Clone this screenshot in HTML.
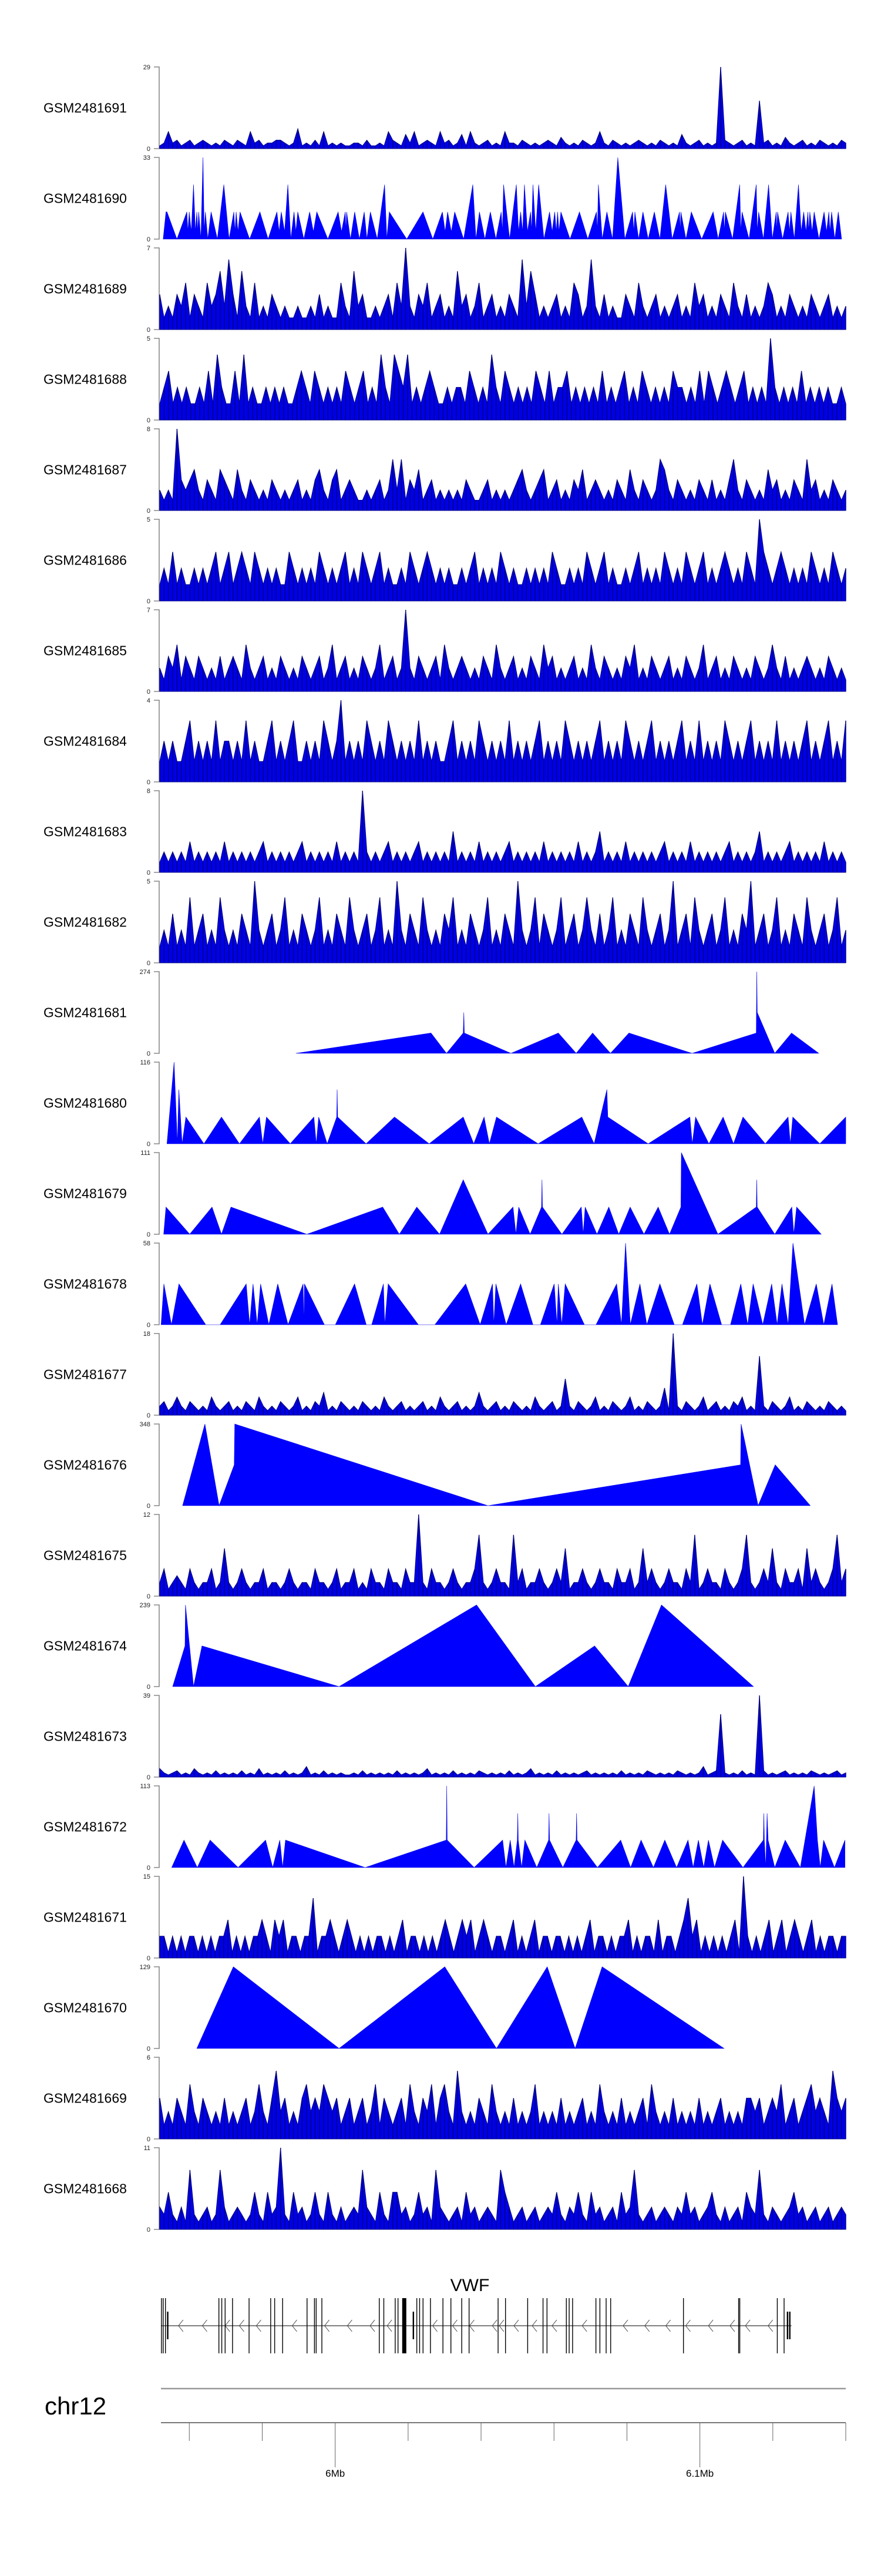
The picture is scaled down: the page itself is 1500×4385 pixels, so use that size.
<!DOCTYPE html>
<html><head><meta charset="utf-8"><title>Coverage tracks chr12 VWF</title>
<style>
html,body{margin:0;padding:0;background:#fff;}
body{width:1500px;height:4380px;overflow:hidden;font-family:"Liberation Sans",Arial,sans-serif;}
svg text{font-family:"Liberation Sans",Arial,sans-serif;}
</style></head>
<body>
<svg id="chart" width="1500" height="4380" viewBox="0 0 1500 4380" xmlns="http://www.w3.org/2000/svg">
<g id="tracks"></g>
<g id="gene"></g>
<g id="scale"></g>
</svg>
<script>
// ---- track names & y-axis maxima ----
const trackNames = ["GSM2481691","GSM2481690","GSM2481689","GSM2481688","GSM2481687","GSM2481686","GSM2481685","GSM2481684","GSM2481683","GSM2481682","GSM2481681","GSM2481680","GSM2481679","GSM2481678","GSM2481677","GSM2481676","GSM2481675","GSM2481674","GSM2481673","GSM2481672","GSM2481671","GSM2481670","GSM2481669","GSM2481668"];
const trackMax = [29,33,7,5,8,5,7,4,8,5,274,116,111,58,18,348,12,239,39,113,15,129,6,11];

// ---- dense coverage tracks (evenly spaced bins) ----
const cov1691 = [1,2,6,2,3,1,2,3,1,2,3,2,1,2,1,3,2,1,3,2,1,6,2,3,1,2,2,3,3,2,1,2,7,1,2,1,3,1,6,1,2,1,2,1,1,2,2,1,3,1,1,2,1,6,3,2,1,5,2,6,1,2,3,2,1,6,2,3,1,2,5,1,6,2,1,2,3,1,2,1,6,2,2,1,3,2,1,2,1,2,3,2,1,4,2,1,2,1,3,2,1,2,6,2,1,3,2,1,2,1,2,3,2,1,2,1,3,2,1,2,1,5,2,1,2,3,1,2,1,2,29,3,2,1,2,3,1,2,1,17,2,3,1,2,1,4,2,1,2,3,1,2,1,3,2,1,2,1,3,2];
const cov1689 = [3,1,2,1,3,2,4,1,3,2,1,4,2,3,5,2,6,3,1,5,2,1,4,1,2,1,3,2,1,2,1,1,2,1,1,2,1,3,1,2,1,1,4,2,1,5,2,3,1,1,2,1,2,3,1,4,2,7,2,1,3,2,4,1,2,3,1,2,1,5,2,3,1,2,4,1,2,3,1,2,1,3,2,1,6,2,5,3,1,2,1,2,3,1,2,1,4,3,1,2,6,2,1,3,1,2,1,1,3,2,1,4,2,1,2,3,1,2,1,2,3,1,2,1,4,2,3,1,2,1,3,2,1,4,2,1,3,1,2,1,2,4,3,1,2,1,3,2,1,2,1,3,2,1,2,3,1,2,1,2];
const cov1688 = [1,2,3,1,2,1,2,1,1,2,1,3,1,4,2,1,1,3,1,4,1,2,1,1,2,1,2,1,2,1,1,2,3,2,1,3,2,1,2,1,2,1,3,2,1,2,3,1,2,1,4,2,1,4,3,2,4,1,2,1,2,3,2,1,1,2,1,2,2,1,3,2,1,2,1,4,2,1,3,2,1,2,1,2,1,3,2,1,3,1,2,2,3,1,2,1,2,1,2,1,3,1,2,1,2,3,1,2,1,3,2,1,2,1,2,1,3,2,2,1,2,1,3,1,3,2,1,2,3,2,1,2,3,1,2,1,2,1,5,2,1,2,1,2,1,3,1,2,1,2,1,2,1,1,2,1];
const cov1687 = [2,1,2,1,8,3,2,3,4,2,1,3,2,1,4,3,2,1,4,2,1,3,2,1,2,1,3,2,1,2,1,2,3,1,2,1,3,4,2,1,3,4,1,2,3,2,1,1,2,1,2,3,1,2,5,2,5,1,3,2,4,1,2,3,1,2,1,2,1,2,1,3,2,1,1,2,3,1,2,1,2,1,2,3,4,2,1,2,3,4,1,2,3,1,2,1,3,2,4,1,2,3,2,1,2,1,3,2,1,4,2,1,3,2,1,2,5,4,2,1,3,2,1,2,1,3,2,1,3,1,2,1,3,5,2,1,3,2,1,2,1,4,2,3,1,2,1,3,2,1,5,2,3,1,2,1,3,2,1,2];
const cov1686 = [1,2,1,3,1,2,1,1,2,1,2,1,2,3,1,2,3,1,2,3,2,1,3,2,1,2,1,2,1,1,3,2,1,2,1,2,1,3,2,1,2,1,2,3,1,2,1,3,2,1,2,3,1,2,1,1,2,1,3,2,1,2,3,2,1,2,1,2,1,1,2,1,2,3,1,2,1,2,1,3,2,1,2,1,1,2,1,2,1,2,1,3,2,1,1,2,1,2,1,3,2,1,2,3,1,2,1,1,2,1,2,3,1,2,1,2,1,3,2,1,2,1,3,2,1,2,3,1,2,1,2,3,2,1,2,1,3,2,1,5,3,2,1,2,3,2,1,2,1,2,1,3,2,1,2,1,3,2,1,2];
const cov1685 = [2,1,3,2,4,1,3,2,1,3,2,1,2,1,3,1,2,3,2,1,4,2,1,2,3,1,2,1,3,2,1,2,1,3,2,1,2,3,1,2,4,1,2,3,1,2,1,3,2,1,2,4,1,2,3,1,2,7,2,1,3,2,1,2,3,1,4,2,1,2,3,2,1,2,1,3,2,1,4,2,1,2,3,1,2,1,3,2,1,4,2,3,1,2,1,2,3,1,2,1,4,2,1,3,2,1,2,1,3,2,4,1,2,1,3,2,1,2,3,1,2,1,3,2,1,2,4,1,2,3,1,2,1,3,2,1,2,1,3,2,1,2,4,2,1,3,1,2,1,2,3,2,1,2,1,3,2,1,2,1];
const cov1684 = [1,2,1,2,1,1,2,3,1,2,1,2,1,3,1,2,2,1,2,1,3,1,2,1,1,2,3,1,2,1,2,3,1,1,2,1,2,1,3,2,1,2,4,1,2,1,2,1,3,2,1,2,1,3,2,1,2,1,2,1,3,1,2,1,2,1,1,2,3,1,2,1,2,1,3,2,1,2,1,2,1,3,1,2,1,2,1,2,3,1,2,1,2,1,3,2,1,2,1,2,1,2,3,1,2,1,2,1,3,2,1,2,1,2,3,1,2,1,2,1,2,3,1,2,1,3,1,2,1,2,1,3,2,1,2,1,2,3,1,2,1,2,1,3,1,2,1,2,1,2,3,1,2,1,2,3,1,2,1,3];
const cov1683 = [1,2,1,2,1,2,1,3,1,2,1,2,1,2,1,3,1,2,1,2,1,2,1,2,3,1,2,1,2,1,2,1,2,3,1,2,1,2,1,2,1,3,1,2,1,2,1,8,2,1,2,1,2,3,1,2,1,2,1,2,3,1,2,1,2,1,2,1,4,1,2,1,2,1,3,1,2,1,2,1,2,3,1,2,1,2,1,2,1,3,1,2,1,2,1,2,1,3,1,2,1,2,4,1,2,1,2,1,3,1,2,1,2,1,2,1,2,3,1,2,1,2,1,3,1,2,1,2,1,2,1,2,3,1,2,1,2,1,2,4,1,2,1,2,1,2,3,1,2,1,2,1,2,1,3,1,2,1,2,1];
const cov1682 = [1,2,1,3,1,2,1,4,1,2,3,1,2,1,4,2,1,2,1,3,2,1,5,2,1,2,3,1,2,4,1,2,1,3,2,1,2,4,1,2,1,3,2,1,4,2,1,2,3,1,2,4,1,2,1,5,2,1,3,2,1,4,2,1,2,1,3,2,4,1,2,1,3,2,1,2,4,1,2,1,3,2,1,5,2,1,2,4,1,3,2,1,2,4,1,2,3,1,2,4,2,1,3,1,2,4,1,2,1,3,2,1,4,2,1,2,3,1,2,5,1,2,3,1,4,2,1,2,3,1,2,4,1,2,1,3,2,5,1,2,3,1,2,4,1,2,1,3,2,1,4,2,1,2,3,1,2,4,1,2];
const cov1677 = [2,3,1,2,4,2,1,3,2,1,2,1,4,2,1,2,3,1,2,1,3,2,1,4,2,1,2,1,3,2,1,2,4,1,2,1,3,2,5,1,2,1,3,2,1,2,1,3,2,1,2,1,4,2,1,2,3,1,2,1,2,3,1,2,1,4,2,1,2,3,1,2,1,2,5,2,1,2,3,1,2,1,3,2,1,2,1,4,2,1,2,3,1,2,8,2,1,3,2,1,2,4,1,2,1,3,2,1,2,4,1,2,1,3,2,1,2,6,1,18,2,1,3,2,1,2,4,1,2,3,1,2,1,3,2,4,1,2,1,13,2,1,3,2,1,2,4,1,2,1,3,2,1,2,1,3,2,1,2,1];
const cov1675 = [2,4,1,2,3,2,1,4,2,1,2,2,4,1,2,7,2,1,2,4,2,1,2,2,4,1,2,2,1,2,4,2,1,2,2,1,4,2,2,1,2,4,1,2,2,4,1,2,1,4,2,2,1,4,2,2,1,4,2,2,12,2,1,4,2,2,1,2,4,2,1,2,2,4,9,2,1,2,4,2,2,1,9,2,4,1,2,2,4,2,1,2,4,2,7,1,2,2,4,2,1,2,4,2,2,1,4,2,2,4,1,2,7,2,4,2,1,2,4,2,2,1,4,2,9,1,2,4,2,2,1,4,2,1,2,4,9,2,1,2,4,2,7,2,1,4,2,2,4,1,7,2,4,2,1,2,4,9,2,4];
const cov1673 = [4,2,1,2,3,1,2,1,4,2,1,2,1,3,1,2,1,2,1,3,1,2,1,4,1,2,1,2,1,3,1,2,1,2,5,1,2,1,3,1,2,1,2,1,1,2,1,3,1,2,1,2,1,2,1,3,1,2,1,2,1,2,4,1,2,1,2,1,3,1,2,1,2,1,3,2,1,2,1,2,1,3,1,2,1,2,4,1,2,1,2,1,3,1,2,1,2,1,2,3,1,2,1,2,1,2,1,3,1,2,1,2,1,3,2,1,2,1,2,1,3,2,1,2,1,2,5,1,2,3,30,2,1,2,1,3,1,2,1,39,3,1,2,1,2,3,1,2,1,2,1,3,2,1,2,1,2,3,1,2];
const cov1671 = [4,4,1,4,1,4,1,4,4,1,4,1,4,1,4,4,7,1,4,1,4,1,4,4,7,4,1,7,4,7,1,4,4,1,4,4,11,1,4,4,7,4,1,4,7,4,1,4,1,4,1,4,4,1,4,1,4,7,1,4,4,1,4,1,4,1,4,7,4,1,4,7,4,7,1,4,7,4,1,4,4,1,4,7,1,4,1,4,7,1,4,4,1,4,4,1,4,1,4,1,4,7,1,4,4,1,4,1,4,4,7,1,4,1,4,4,1,7,1,4,4,1,4,7,11,4,7,1,4,1,4,1,4,1,4,7,1,15,4,1,4,1,4,7,1,4,7,1,4,7,4,1,4,7,1,4,1,4,4,1,4,4];
const cov1669 = [3,1,2,1,3,2,1,4,2,1,3,2,1,2,1,3,1,2,1,2,3,1,2,4,2,1,3,5,2,3,1,2,1,3,4,2,3,2,4,3,2,3,1,2,3,1,2,3,1,2,4,1,3,2,1,2,3,1,4,2,1,3,2,4,1,3,4,2,1,5,2,1,2,1,3,2,1,4,2,1,2,1,3,1,2,1,2,4,1,2,1,2,1,3,1,2,1,2,3,1,2,1,4,2,1,2,1,3,1,2,1,2,3,1,4,2,1,2,1,3,1,2,1,2,1,3,1,2,1,2,3,1,2,1,2,1,3,3,2,3,1,2,3,2,4,1,2,3,1,2,3,4,2,3,2,1,5,3,2,3];
const cov1668 = [3,2,5,2,1,3,1,8,2,1,2,3,1,2,8,3,1,2,3,2,1,2,5,2,1,5,2,3,11,2,1,5,2,3,1,2,5,2,1,5,2,1,3,1,2,3,2,8,3,2,1,5,2,1,5,5,2,3,1,2,5,2,3,1,8,3,2,1,2,3,1,5,2,3,1,2,3,2,1,8,5,3,1,2,3,1,2,3,1,2,3,2,5,2,1,3,2,5,2,1,5,2,3,1,2,3,1,5,2,3,8,2,1,2,3,1,2,3,2,1,3,2,5,2,3,1,2,3,5,2,1,3,1,2,3,1,5,3,2,8,2,1,3,2,1,2,3,5,2,3,1,2,3,1,2,3,1,2,3,2];

// ---- sparse tracks: genomic position (relative 0-1000 over window) and coverage ----
const pos1690 = [5,9.1,10.5,25,39.5,41,43,46,49.2,52,54,55.5,56.8,60,63,64.8,66.5,70,74.8,84,93.4,101,108,109.7,111.4,114,117,131,146,158,170.8,174,177.1,182,186.7,191,195.7,198.5,201.2,210,218.5,224,228.9,245,260,265,270.4,271.4,272.4,278,284.2,291,298,302,307,317,327.7,331,334.6,360,383.7,398,412,416,419.6,425,430,443,456.3,461,466,474,481.9,490,497.7,499.5,501.2,510,519.8,523,526.1,529,531.6,536,540.6,542,544,548,552.3,560,568.2,572,575.8,578,580,582,584.8,598,611.8,624,636.6,638,639.4,645,651.8,660,667.7,678,689.2,691,692.6,698,704.4,712,721,729,737.5,747,757.6,758.7,759.7,767,774.9,790,806.7,814,821.9,823,824.6,835,845.4,847,848.8,859,869.5,871,873,880,887.5,893,898.6,899.6,900.6,908,915.9,918,920,925,931.1,935,938.7,942,944.9,946,947.6,951,953.9,961,968.4,972,975.3,977,979.4,984,989.1,993.9];
const val1690 = [0,11,11,0,11,3,11,3,22,3,11,3,11,0,33,3,11,0,11,0,22,0,11,3,11,3,11,0,11,0,11,3,11,3,22,0,11,3,11,0,11,3,11,0,11,3,11,3,11,0,11,0,11,0,11,0,22,0,11,0,11,0,11,3,11,3,11,0,22,0,11,0,11,0,11,3,22,0,22,3,11,3,22,3,11,3,22,3,22,0,11,3,11,3,11,3,11,0,11,0,11,3,22,0,11,0,33,0,11,3,11,0,11,0,11,0,22,0,11,3,11,0,11,0,11,0,11,3,11,0,22,3,11,0,22,3,11,0,22,0,11,3,11,0,11,3,11,0,22,3,11,3,11,3,11,3,11,0,11,3,11,3,11,0,11,0];
const pos1681 = [198.5,395.4,418,442.4,443.2,444,512,581,607,631,657,684,776,869.5,870.3,871,896.5,921,960.6];
const val1681 = [0,68,0,68,137,68,0,68,0,68,0,68,0,68,274,137,0,68,0];
const pos1680 = [10.5,20.9,25.7,27.8,32.6,38.1,64.4,90,116.2,145.3,150.1,155.6,190.2,224.7,228.2,231.7,244.1,258,258.6,259.3,300.8,342.2,392.7,442.4,457.7,472.8,480.5,490.8,551.6,615.2,633.2,651.8,653.2,712,772.8,776.3,781.1,800.5,821.2,836.4,850.2,882.7,915.9,919.3,922.8,962.2,1000];
const val1680 = [0,116,0,77,0,38,0,38,0,38,0,38,0,38,0,38,0,38,77,38,0,38,0,38,0,38,0,38,0,38,0,77,38,0,38,0,38,0,38,0,38,0,38,0,38,0,38];
const pos1679 = [5.7,9.1,43.7,76.2,90,103.8,214.4,325,349.2,374.7,407.9,442.4,478.4,515,519.2,523.3,539.9,556.5,557.2,557.9,586.2,614.5,617.3,620.1,637.3,654.6,669.1,685.7,705.8,726.5,743.1,759.7,760.4,813.6,869.5,870.3,870.9,896.5,921.4,924.2,928.3,964.2];
const val1679 = [0,37,0,37,0,37,0,37,0,37,0,74,0,37,0,37,0,37,74,37,0,37,0,37,0,37,0,37,0,37,0,37,111,0,37,74,37,0,37,0,37,0];
const pos1678 = [2,6,17,28,67,88,126,131,136,142,147,159,172,187,209,210,211,240,256,284,301,309,326,328,333,377,401,446,467,485,487,490,505,526,544,555,575,579,581,586,591,619,636,666,673,679,686,700,710,729,750,762,783,791,802,819,832,847,857,865,879,892,900,907,916,923,940,957,968,980,988];
const val1678 = [0,29,0,29,0,0,29,0,29,0,29,0,29,0,29,0,29,0,0,29,0,0,29,0,29,0,0,29,0,29,0,29,0,29,0,0,29,0,29,0,29,0,0,29,0,58,0,29,0,29,0,0,29,0,29,0,0,29,0,29,0,29,0,29,0,58,0,29,0,29,0];
const pos1676 = [33.3,65.8,86.5,108.6,109.3,478.4,846.7,847.4,872.3,897.2,948.3];
const val1676 = [0,348,0,174,348,0,174,348,0,174,0];
const pos1674 = [18.8,36.8,37.5,49.2,61.6,261.4,461.8,547.5,633.9,682.9,731.3,865.4];
const val1674 = [0,119,239,0,119,0,239,0,119,0,239,0];
const pos1672 = [17.4,35.4,54.7,73.4,114.2,154.3,164.6,175,179.1,183.3,299.4,417.6,418.3,419,458.3,499.8,504.6,510.9,516.4,521.2,521.9,522.6,527.5,532.3,549.6,566.9,567.5,568.2,587.6,606.9,607.6,608.3,638,671.9,686.4,701.6,719.6,736.2,753.4,770,777.6,785.2,792.9,799.8,808.7,820.5,850.2,879.9,880.6,881.3,883.4,885.4,886.8,896.5,911.7,933.8,953.9,958.7,962.8,967.7,983.6,998.8];
const val1672 = [0,38,0,38,0,38,0,38,0,38,0,38,113,38,0,38,0,38,0,38,75,38,0,38,0,38,75,38,0,38,75,38,0,38,0,38,0,38,0,38,0,38,0,38,0,38,0,38,75,38,0,75,38,0,38,0,113,38,0,38,0,38];
const pos1670 = [54,107.3,261.4,415.5,490.8,564.8,605.5,644.9,822.6];
const val1670 = [0,129,0,129,0,129,0,129,0];

// ---- gene model (relative positions) ----
const geneName = "VWF";
const geneSpan = [1.7,921];
const exonTall = [2.5,5,8.3,86.2,90.4,95.3,106.1,130.2,161.7,167.5,179.1,214.7,225.5,228,236.3,320,326.6,343.2,347.3,374.7,378.8,383.8,394.6,412.8,424.4,440.2,450.9,493.2,504,536.3,558.7,564.5,592.7,596.8,601.8,635.8,641.6,650.7,657.3,763.4,843.8,845.5,900.2,910.1];
const exonThick = [356.4];
const exonShort = [11.6,369.7,915.1,918.4];
const chevrons = [30.7,65.5,98.7,119.4,144.2,196.5,243.7,276.9,310,334.9,401.2,430.2,455,488.2,498.2,519.7,546.3,575.3,619.2,678.9,710.4,741.1,770.1,803.2,834.7,857.1,890.2];

// ---- genome axis ----
const chromName = "chr12";
const winStartMb = 5.9519, winEndMb = 6.1400;
const axisTicksMb = [5.96,5.98,6.00,6.02,6.04,6.06,6.08,6.10,6.12,6.14];
const axisLabels = {"6.00":"6Mb","6.10":"6.1Mb"};

const sparse = {GSM2481690:[pos1690,val1690],GSM2481681:[pos1681,val1681],GSM2481680:[pos1680,val1680],GSM2481679:[pos1679,val1679],GSM2481678:[pos1678,val1678],GSM2481676:[pos1676,val1676],GSM2481674:[pos1674,val1674],GSM2481672:[pos1672,val1672],GSM2481670:[pos1670,val1670]};
const dense = {GSM2481691:cov1691,GSM2481689:cov1689,GSM2481688:cov1688,GSM2481687:cov1687,GSM2481686:cov1686,GSM2481685:cov1685,GSM2481684:cov1684,GSM2481683:cov1683,GSM2481682:cov1682,GSM2481677:cov1677,GSM2481675:cov1675,GSM2481673:cov1673,GSM2481671:cov1671,GSM2481669:cov1669,GSM2481668:cov1668};

const NS="http://www.w3.org/2000/svg";
const X0=272, X1=1440, TOP0=114, STEP=154, TH=139;
const xRel = u => X0 + u/1000*(X1-X0);
const xMb = mb => X0 + (mb-winStartMb)/(winEndMb-winStartMb)*(X1-X0);
function mk(tag, attrs, parent){const e=document.createElementNS(NS,tag);for(const k in attrs)e.setAttribute(k,attrs[k]);parent.appendChild(e);return e;}

const tracksG=document.getElementById('tracks');
trackNames.forEach((name,i)=>{
  const top=TOP0+i*STEP, base=top+TH, mx=trackMax[i];
  const yS = v => base - v/mx*TH;
  const g=mk('g',{},tracksG);
  
  
  const lbl=mk('text',{x:74,y:top+TH/2+8,'font-size':23,fill:'#000'},g);
  lbl.textContent=name;
  
  
  const ax=mk('path',{d:`M262 ${top} H271 V${base} H262`,stroke:'#888',fill:'none','stroke-width':1.6},g);
  
  
  const t1=mk('text',{x:256,y:top+4,'font-size':11,'text-anchor':'end',fill:'#222'},g);
  t1.textContent=String(mx);
  
  
  const t0=mk('text',{x:256,y:base+4,'font-size':11,'text-anchor':'end',fill:'#222'},g);
  t0.textContent='0';
  
  
  let pts=[];
  if(sparse[name]){
    const [p,v]=sparse[name];
    pts.push(`${xRel(p[0]).toFixed(1)},${base}`);
    p.forEach((u,k)=>pts.push(`${xRel(u).toFixed(1)},${yS(v[k]).toFixed(1)}`));
    pts.push(`${xRel(p[p.length-1]).toFixed(1)},${base}`);
    const a=mk('polygon',{points:pts.join(' '),fill:'#0000ff',stroke:'#0000ee','stroke-width':0.6},g);
    
    
  } else {
    const v=dense[name], n=v.length;
    pts.push(`${X0},${base}`);
    v.forEach((val,k)=>pts.push(`${xRel(k/(n-1)*1000).toFixed(1)},${yS(val).toFixed(1)}`));
    pts.push(`${X1},${base}`);
    const a=mk('polygon',{points:pts.join(' '),fill:'#0000e6',stroke:'#00008b','stroke-width':1.1},g);
    
    
    let d='';
    v.forEach((val,k)=>{const x=xRel(k/(n-1)*1000).toFixed(1);d+=`M${x} ${base}V${yS(val).toFixed(1)}`;});
    const s=mk('path',{d:d,stroke:'#00007a','stroke-width':1.3,fill:'none'},g);
    
    
  }
});

// gene track
const geneG=document.getElementById('gene');
const gy=3959;
const gt=mk('text',{x:800,y:3900,'font-size':30,'text-anchor':'middle',fill:'#000'},geneG);
gt.textContent=geneName;


const gl=mk('line',{x1:xRel(geneSpan[0]),x2:xRel(geneSpan[1]),y1:gy,y2:gy,stroke:'#333','stroke-width':1.2},geneG);


chevrons.forEach(u=>{const x=xRel(u);
  const c=mk('path',{d:`M${x+4} ${gy-10} L${x-4} ${gy} L${x+4} ${gy+10}`,stroke:'#444',fill:'none','stroke-width':1},geneG);
  
  });
exonTall.forEach(u=>{const x=xRel(u);
  const e=mk('rect',{x:x-0.7,y:3912,width:1.4,height:94,fill:'#000'},geneG);
  
  });
exonThick.forEach(u=>{const x=xRel(u);
  const e=mk('rect',{x:x-3.5,y:3912,width:7,height:94,fill:'#000'},geneG);
  
  });
exonShort.forEach(u=>{const x=xRel(u);
  const e=mk('rect',{x:x-1.2,y:3935,width:2.4,height:47,fill:'#000'},geneG);
  
  });

// genome axis
const sG=document.getElementById('scale');
const ch=mk('text',{x:76,y:4110,'font-size':42,fill:'#000'},sG);
ch.textContent=chromName;


const l1=mk('line',{x1:274,x2:1440,y1:4066,y2:4066,stroke:'#999','stroke-width':2.5},sG);


const l2=mk('line',{x1:274,x2:1440,y1:4124,y2:4124,stroke:'#777','stroke-width':2},sG);


axisTicksMb.forEach(mb=>{const x=xMb(mb), key=mb.toFixed(2), lab=axisLabels[key];
  const t=mk('line',{x1:x,x2:x,y1:4124,y2:lab?4200:4155,stroke:'#666','stroke-width':1},sG);
  
  
  if(lab){const tx=mk('text',{x:x,y:4216,'font-size':17,'text-anchor':'middle',fill:'#000'},sG);
    tx.textContent=lab;
    
    }
});
</script>
</body></html>
